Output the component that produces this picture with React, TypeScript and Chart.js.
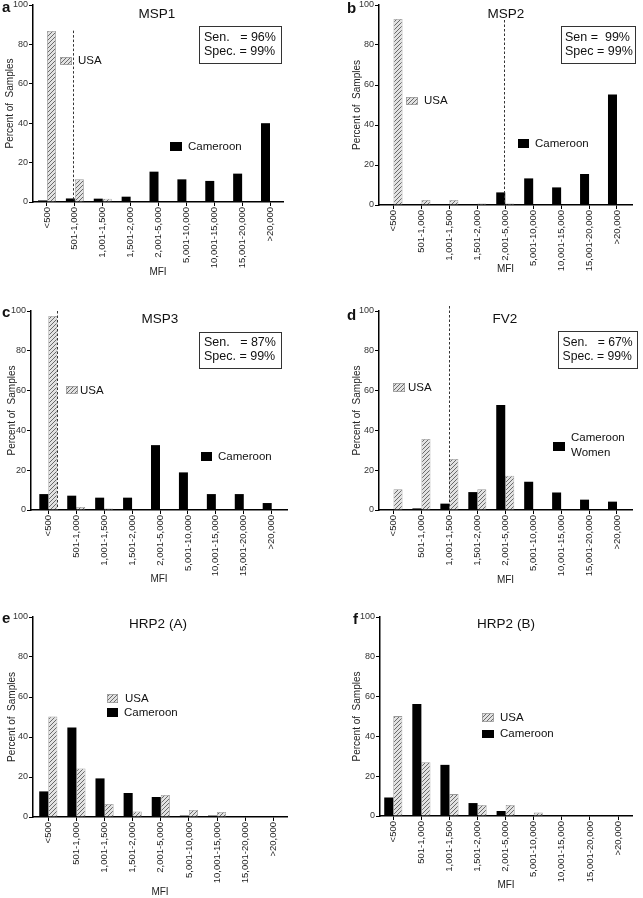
import React, { useEffect, useRef } from 'react';
import { Chart, registerables } from 'chart.js';

Chart.register(...registerables);

const FONT = '"Liberation Sans", Arial, Helvetica, sans-serif';

// MFI bins (x categories)
const categories = ['<500', '501-1,000', '1,001-1,500', '1,501-2,000', '2,001-5,000', '5,001-10,000', '10,001-15,000', '15,001-20,000', '>20,000'];
const yTickValues = [0, 20, 40, 60, 80, 100];

// Percent of samples per bin
const msp1Cameroon = [0.8, 1.8, 1.7, 2.7, 15.4, 11.5, 10.7, 14.4, 40.0];
const msp1USA = [86.8, 11.5, 1.7, 0, 0, 0, 0, 0, 0];
const msp2Cameroon = [0, 0, 0, 0, 6.3, 13.3, 8.8, 15.5, 55.3];
const msp2USA = [93.0, 2.5, 2.5, 0.8, 0.8, 0, 0, 0, 0];
const msp3Cameroon = [8.0, 7.2, 6.2, 6.2, 32.6, 18.9, 8.0, 8.0, 3.5];
const msp3USA = [97.5, 1.5, 0.7, 0, 0, 0, 0, 0, 0];
const fv2Cameroon = [0, 0.8, 3.2, 9.0, 52.8, 14.2, 8.8, 5.2, 4.2];
const fv2USA = [10.4, 35.7, 25.6, 10.4, 17.2, 0, 0, 0, 0];
const hrp2aCameroon = [12.8, 44.7, 19.3, 12.0, 10.0, 0.7, 0.7, 0, 0];
const hrp2aUSA = [50.2, 24.3, 6.5, 2.8, 11.0, 3.5, 2.5, 0, 0];
const hrp2bCameroon = [9.3, 56.3, 25.7, 6.5, 2.5, 0, 0, 0, 0];
const hrp2bUSA = [50.2, 27.0, 11.0, 5.5, 5.5, 1.7, 0, 0, 0];

const antigens = ['MSP1', 'MSP2', 'MSP3', 'FV2', 'HRP2 (A)', 'HRP2 (B)'];
const panelLetters = ['a', 'b', 'c', 'd', 'e', 'f'];
const sensitivity = ['96%', '99%', '87%', '67%'];
const specificity = ['99%', '99%', '99%', '99%'];
// cut-off position (in bin units) and its top (percent)
const cutoffBin = [0.95, 3.95, 0.32, 2.0];
const cutoffTop = [87, 92.5, 100, 102.5];

type Legend = { hatched: boolean; sx: number; sy: number; sw: number; sh: number; tx: number; ty: number[]; text: string[] };
type Spec = {
  idx: number;
  left: number; top: number; w: number; h: number;
  pad: { left: number; right: number; top: number; bottom: number };
  yW: number; xH: number; xMin: number; xMax: number;
  letter: [number, number]; title: [number, number];
  box?: { x: number; y: number; w: number; h: number; tx: number; ty: number[]; lines: string[]; size: number };
  legend: Legend[];
  cut?: { x: number; top: number };
  cameroon: number[]; usa: number[];
};

const specs: Spec[] = [
  {
    idx: 0, left: 0, top: 0, w: 320, h: 300,
    pad: { left: 4, right: 37, top: 5, bottom: 22 }, yW: 29, xH: 76, xMin: -0.502, xMax: 8.466,
    letter: [2, 12], title: [157, 14],
    box: { x: 199.5, y: 26.5, w: 82, h: 37, tx: 204, ty: [38, 52], size: 12.5, lines: [`Sen.   = ${sensitivity[0]}`, `Spec. = ${specificity[0]}`] },
    legend: [
      { hatched: true, sx: 60, sy: 57, sw: 12, sh: 8, tx: 78, ty: [61], text: ['USA'] },
      { hatched: false, sx: 170, sy: 142, sw: 12, sh: 9, tx: 188, ty: [146.5], text: ['Cameroon'] },
    ],
    cut: { x: cutoffBin[0], top: cutoffTop[0] },
    cameroon: msp1Cameroon, usa: msp1USA,
  },
  {
    idx: 1, left: 320, top: 0, w: 323, h: 300,
    pad: { left: 31, right: 11, top: 5, bottom: 25 }, yW: 28, xH: 70, xMin: -0.519, xMax: 8.537,
    letter: [27, 13], title: [186, 14],
    box: { x: 241.5, y: 26.5, w: 74, h: 37, tx: 245, ty: [38, 52], size: 12.5, lines: [`Sen =  ${sensitivity[1]}`, `Spec = ${specificity[1]}`] },
    legend: [
      { hatched: true, sx: 86, sy: 97, sw: 12, sh: 8, tx: 104, ty: [101], text: ['USA'] },
      { hatched: false, sx: 198, sy: 139, sw: 11, sh: 9, tx: 215, ty: [144], text: ['Cameroon'] },
    ],
    cut: { x: cutoffBin[1], top: cutoffTop[1] },
    cameroon: msp2Cameroon, usa: msp2USA,
  },
  {
    idx: 2, left: 0, top: 300, w: 320, h: 300,
    pad: { left: 6, right: 33, top: 11, bottom: 15 }, yW: 25, xH: 75, xMin: -0.62, xMax: 8.548,
    letter: [2, 17], title: [160, 19],
    box: { x: 199.5, y: 32.5, w: 82, h: 36, tx: 204, ty: [43, 57], size: 12.5, lines: [`Sen.   = ${sensitivity[2]}`, `Spec. = ${specificity[2]}`] },
    legend: [
      { hatched: true, sx: 66, sy: 86, sw: 12, sh: 8, tx: 80, ty: [91], text: ['USA'] },
      { hatched: false, sx: 201, sy: 152, sw: 11, sh: 9, tx: 218, ty: [157], text: ['Cameroon'] },
    ],
    cut: { x: cutoffBin[2], top: cutoffTop[2] },
    cameroon: msp3Cameroon, usa: msp3USA,
  },
  {
    idx: 3, left: 320, top: 300, w: 323, h: 300,
    pad: { left: 31, right: 11, top: 11, bottom: 14 }, yW: 28, xH: 76, xMin: -0.519, xMax: 8.537,
    letter: [27, 20], title: [185, 19],
    box: { x: 238.5, y: 31.5, w: 79, h: 37, tx: 242.5, ty: [43, 57], size: 12.2, lines: [`Sen.   = ${sensitivity[3]}`, `Spec. = ${specificity[3]}`] },
    legend: [
      { hatched: true, sx: 73, sy: 83, sw: 12, sh: 9, tx: 88, ty: [88], text: ['USA'] },
      { hatched: false, sx: 233, sy: 142, sw: 12, sh: 9, tx: 251, ty: [138, 153], text: ['Cameroon', 'Women'] },
    ],
    cut: { x: cutoffBin[3], top: cutoffTop[3] },
    cameroon: fv2Cameroon, usa: fv2USA,
  },
  {
    idx: 4, left: 0, top: 600, w: 320, h: 298,
    pad: { left: 6, right: 33, top: 17, bottom: 0 }, yW: 27, xH: 81, xMin: -0.544, xMax: 8.487,
    letter: [2, 23], title: [158, 24],
    legend: [
      { hatched: true, sx: 107, sy: 94, sw: 11, sh: 9, tx: 125, ty: [99], text: ['USA'] },
      { hatched: false, sx: 107, sy: 108, sw: 11, sh: 9, tx: 124, ty: [112.5], text: ['Cameroon'] },
    ],
    cameroon: hrp2aCameroon, usa: hrp2aUSA,
  },
  {
    idx: 5, left: 320, top: 600, w: 323, h: 298,
    pad: { left: 31, right: 11, top: 17, bottom: 7 }, yW: 29, xH: 75, xMin: -0.473, xMax: 8.498,
    letter: [33, 24], title: [186, 24],
    legend: [
      { hatched: true, sx: 162, sy: 113, sw: 12, sh: 9, tx: 180, ty: [117.5], text: ['USA'] },
      { hatched: false, sx: 162, sy: 130, sw: 12, sh: 8, tx: 180, ty: [134], text: ['Cameroon'] },
    ],
    cameroon: hrp2bCameroon, usa: hrp2bUSA,
  },
];

function makeHatch(): CanvasPattern | string {
  const c = document.createElement('canvas');
  c.width = 4; c.height = 4;
  const g = c.getContext('2d');
  if (!g) return '#bbb';
  g.fillStyle = '#e2e2e2';
  g.fillRect(0, 0, 4, 4);
  g.strokeStyle = '#6a6a6a';
  g.lineWidth = 1;
  g.beginPath();
  g.moveTo(0, 4); g.lineTo(4, 0);
  g.moveTo(-1, 1); g.lineTo(1, -1);
  g.moveTo(3, 5); g.lineTo(5, 3);
  g.stroke();
  return g.createPattern(c, 'repeat') || '#bbb';
}

function makeDeco(spec: Spec, hatch: CanvasPattern | string) {
  return {
    id: 'deco' + spec.idx,
    afterDraw(chart: any) {
      const ctx: CanvasRenderingContext2D = chart.ctx;
      ctx.save();
      // cut-off dashed line
      if (spec.cut) {
        const xs = chart.scales.x, ys = chart.scales.y;
        const x = Math.round(xs.getPixelForValue(spec.cut.x)) + 0.5;
        ctx.strokeStyle = '#333';
        ctx.lineWidth = 1;
        ctx.setLineDash([2.5, 2]);
        ctx.beginPath();
        ctx.moveTo(x, ys.getPixelForValue(spec.cut.top));
        ctx.lineTo(x, ys.getPixelForValue(0));
        ctx.stroke();
        ctx.setLineDash([]);
      }
      ctx.fillStyle = '#111';
      // panel letter
      ctx.font = `bold 15px ${FONT}`;
      ctx.textAlign = 'left';
      ctx.textBaseline = 'alphabetic';
      ctx.fillText(panelLetters[spec.idx], spec.letter[0], spec.letter[1]);
      // title
      ctx.font = `13.5px ${FONT}`;
      ctx.textAlign = 'center';
      ctx.textBaseline = 'middle';
      ctx.fillText(antigens[spec.idx], spec.title[0], spec.title[1]);
      // sensitivity / specificity box
      if (spec.box) {
        const b = spec.box;
        ctx.strokeStyle = '#333';
        ctx.lineWidth = 1;
        ctx.strokeRect(b.x, b.y, b.w, b.h);
        ctx.font = `${b.size}px ${FONT}`;
        ctx.textAlign = 'left';
        b.lines.forEach((t, i) => ctx.fillText(t, b.tx, b.ty[i]));
      }
      // legend entries
      spec.legend.forEach((l) => {
        ctx.fillStyle = l.hatched ? (hatch as any) : '#000';
        ctx.fillRect(l.sx, l.sy, l.sw, l.sh);
        if (l.hatched) {
          ctx.strokeStyle = '#999';
          ctx.lineWidth = 0.8;
          ctx.strokeRect(l.sx + 0.5, l.sy + 0.5, l.sw - 1, l.sh - 1);
        }
        ctx.fillStyle = '#111';
        ctx.font = `11.5px ${FONT}`;
        ctx.textAlign = 'left';
        ctx.textBaseline = 'middle';
        l.text.forEach((t, i) => ctx.fillText(t, l.tx, l.ty[i]));
      });
      ctx.restore();
    },
  };
}

function Panel({ spec }: { spec: Spec }) {
  const ref = useRef<HTMLCanvasElement>(null);
  useEffect(() => {
    if (!ref.current) return;
    const hatch = makeHatch();
    const toPts = (vals: number[]) => vals.map((v, i) => ({ x: i, y: v === 0 ? null : v }));
    const legendCam = spec.legend.find((l) => !l.hatched);
    const chart = new Chart(ref.current, {
      type: 'bar',
      data: {
        datasets: [
          {
            label: legendCam ? legendCam.text.join(' ') : 'Cameroon',
            data: toPts(spec.cameroon) as any,
            backgroundColor: '#000',
            borderWidth: 0,
            categoryPercentage: 0.645,
            barPercentage: 1,
          },
          {
            label: 'USA',
            data: toPts(spec.usa) as any,
            backgroundColor: hatch as any,
            borderColor: '#9a9a9a',
            borderWidth: 0.8,
            categoryPercentage: 0.645,
            barPercentage: 1,
          },
        ],
      },
      options: {
        responsive: false,
        animation: false,
        devicePixelRatio: 1,
        layout: { padding: spec.pad },
        plugins: { legend: { display: false }, tooltip: { enabled: false }, title: { display: false } },
        scales: {
          x: {
            type: 'linear',
            min: spec.xMin,
            max: spec.xMax,
            offset: false,
            afterBuildTicks: (ax: any) => {
              ax.ticks = categories.map((_, i) => ({ value: i }));
            },
            afterFit: (ax: any) => {
              ax.height = spec.xH;
              ax.paddingLeft = 0;
              ax.paddingRight = 0;
            },
            ticks: {
              autoSkip: false,
              maxRotation: 90,
              minRotation: 90,
              padding: 1,
              color: '#222',
              font: { family: FONT, size: 9.5 },
              callback: (v: any) => categories[Math.round(Number(v))] ?? '',
            },
            grid: { display: true, offset: false, drawOnChartArea: false, drawTicks: true, tickLength: 4, color: '#000', lineWidth: 1 },
            border: { display: true, color: '#000', width: 1.5 },
            title: { display: true, text: 'MFI', color: '#222', padding: 0, font: { family: FONT, size: 10, lineHeight: 1.2 } },
          },
          y: {
            type: 'linear',
            min: 0,
            max: 100,
            afterBuildTicks: (ax: any) => {
              ax.ticks = yTickValues.map((v) => ({ value: v }));
            },
            afterFit: (ax: any) => {
              ax.width = spec.yW;
              ax.paddingTop = 0;
              ax.paddingBottom = 0;
            },
            ticks: { padding: 1, color: '#333', font: { family: FONT, size: 9 } },
            grid: { display: true, drawOnChartArea: false, drawTicks: true, tickLength: 4, color: '#000', lineWidth: 1 },
            border: { display: true, color: '#000', width: 1.5 },
            title: { display: true, text: 'Percent of  Samples', color: '#222', padding: 0, font: { family: FONT, size: 10, lineHeight: 1.2 } },
          },
        },
      } as any,
      plugins: [makeDeco(spec, hatch)],
    });
    return () => chart.destroy();
  }, [spec]);
  return (
    <canvas
      ref={ref}
      width={spec.w}
      height={spec.h}
      style={{ position: 'absolute', left: spec.left, top: spec.top, width: spec.w, height: spec.h }}
    />
  );
}

export default function App() {
  return (
    <div style={{ position: 'absolute', left: 0, top: 0, width: 643, height: 898, background: '#fff', overflow: 'hidden' }}>
      {specs.map((s) => (
        <Panel key={s.idx} spec={s} />
      ))}
    </div>
  );
}
